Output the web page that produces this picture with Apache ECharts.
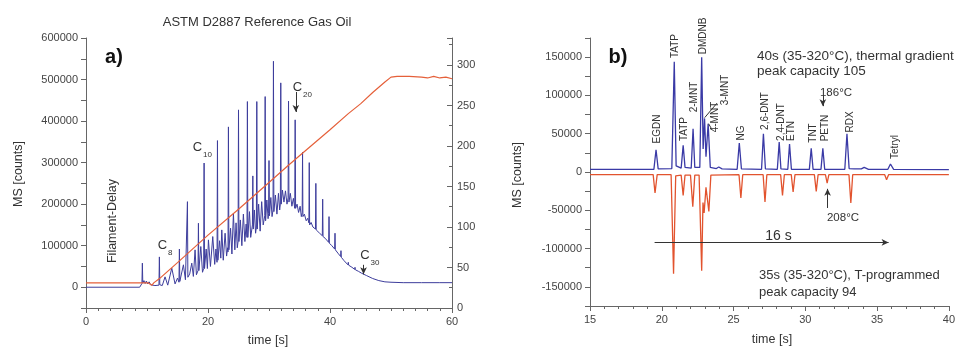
<!DOCTYPE html>
<html>
<head>
<meta charset="utf-8">
<script src="https://cdn.jsdelivr.net/npm/echarts@6/dist/echarts.min.js"></script>
<style>
  html, body { margin: 0; background: #fff; }
  #main { width: 958px; height: 349px; }
</style>
</head>
<body>
<div id="main"></div>
<script>
// a) ASTM D2887 gas oil: MS counts vs time [s]
var gasTrace = [
  [0,0],[8.8,0],[9.05,3000],[9.17,9000],[9.24,58000],[9.31,10000],[9.5,16000],[9.7,9000],[9.9,15000],[10.1,8000],
  [10.35,13000],[10.6,6000],[10.9,10000],[11.3,4000],[11.96,5000],[12.03,73000],[12.1,6000],[12.5,4000],[12.96,25000],
  [13.4,5000],[14.06,46000],[14.6,8000],[15.0,22000],[15.24,12000],[15.31,92000],[15.38,14000],[15.97,54000],
  [16.3,18000],[16.56,22000],[16.63,206000],[16.7,24000],[17.0,32000],[17.34,58000],[17.6,26000],[17.88,90000],
  [18.1,30000],[18.36,40000],[18.43,154000],[18.5,40000],[18.82,98000],[19.1,36000],[19.29,45000],[19.36,299000],
  [19.43,45000],[19.7,92000],[19.9,45000],[20.07,114000],[20.4,50000],[20.78,122000],[21.1,55000],[21.3,92000],
  [21.48,60000],[21.55,353000],[21.62,65000],[21.9,112000],[22.1,70000],[22.26,138000],[22.5,65000],[22.8,130000],
  [23.05,75000],[23.22,95000],[23.28,85000],[23.35,386000],[23.42,90000],[23.7,142000],[23.92,80000],[24.17,178000],
  [24.4,90000],[24.6,155000],[24.8,95000],[24.93,110000],[25.0,427000],[25.07,110000],[25.3,162000],[25.55,100000],
  [25.8,176000],[26.05,110000],[26.25,152000],[26.39,120000],[26.46,447000],[26.53,120000],[26.8,182000],[27.0,120000],
  [27.28,150000],[27.35,268000],[27.42,140000],[27.6,186000],[27.8,130000],[27.93,145000],[28.0,447000],[28.07,140000],
  [28.3,200000],[28.55,135000],[28.8,206000],[29.05,150000],[29.3,172000],[29.37,459000],[29.44,160000],[29.65,210000],
  [29.85,165000],[29.93,178000],[30.0,305000],[30.07,172000],[30.3,216000],[30.5,170000],[30.66,186000],[30.73,544000],
  [30.8,182000],[31.05,222000],[31.3,176000],[31.55,226000],[31.75,186000],[31.86,200000],[31.93,492000],[32.0,200000],
  [32.2,234000],[32.45,205000],[32.7,232000],[32.95,200000],[33.13,215000],[33.2,448000],[33.27,205000],[33.5,226000],
  [33.75,195000],[34.0,214000],[34.22,190000],[34.29,403000],[34.36,190000],[34.6,200000],[34.85,180000],[35.1,195000],
  [35.3,170000],[35.44,180000],[35.5,325000],[35.56,170000],[35.8,176000],[36.1,160000],[36.35,166000],[36.54,155000],
  [36.6,300000],[36.66,150000],[36.9,156000],[37.2,145000],[37.45,148000],[37.62,140000],[37.68,250000],[37.74,138000],
  [38.0,140000],[38.3,130000],[38.55,132000],[38.74,124000],[38.8,212000],[38.86,122000],[39.2,118000],[39.5,114000],
  [39.78,108000],[39.84,170000],[39.9,106000],[40.3,100000],[40.76,92000],[40.82,130000],[40.88,90000],[41.3,82000],
  [41.74,74000],[41.8,88000],[41.86,72000],[42.3,64000],[42.94,54000],[43.0,60000],[43.06,53000],[43.6,48000],
  [44.04,43000],[44.1,48000],[44.16,42000],[44.7,38000],[45.14,34000],[45.2,38000],[45.26,33000],[46,28000],
  [47,21000],[48,16000],[49,13000],[50,12000],[52,11000],[55,11000],[58,11000],[60,11000]
];
// oven temperature [°C], right axis
var gasTemp = [
  [0,31],[10.2,31],[10.5,29],[10.8,28],[11.1,31],[12,36],[15,56],[20,90],[25,122],[30,155],[33,175],[35,188],
  [40,220],[43,240],[45,252],[47,266],[49,279],[50,285],[51,286],[53,286],[55,285],[56,284],[57,286],[58,284],
  [59,285],[60,283]
];

// b) explosives: thermal gradient (up) vs T-programmed (down, inverted)
var thermalGradient = [
  [15,3500],[19.45,3500],[19.6,29000],[19.75,4000],[20.7,4500],[20.87,144000],[21.0,8000],[21.35,5000],[21.49,34700],
  [21.62,6000],[22.05,5000],[22.18,56500],[22.3,6000],[22.65,6000],[22.78,150000],[22.88,30000],[22.98,70000],
  [23.08,20000],[23.23,63000],[23.38,6000],[23.8,4500],[23.97,6500],[24.2,4000],[25.25,3500],[25.4,37800],[25.55,4000],
  [26.95,3500],[27.08,50000],[27.22,4000],[28.05,3500],[28.18,39000],[28.3,4000],[28.78,3500],[28.9,36500],[29.03,3500],
  [30.28,3500],[30.41,30800],[30.54,3500],[31.09,3500],[31.22,30800],[31.35,3500],[32.75,3500],[32.9,50000],
  [33.05,4500],[33.4,4000],[33.9,4000],[34.1,6000],[34.4,3500],[35.75,3500],[35.93,10400],[36.15,3500],[40,3000]
];
var tProgrammed = [
  [15,-3500],[19.4,-3500],[19.53,-27400],[19.68,-3500],[20.65,-3500],[20.82,-133000],[20.97,-5000],[21.35,-4000],
  [21.49,-30500],[21.62,-4000],[22.0,-4000],[22.16,-45300],[22.3,-4000],[22.6,-4000],[22.78,-129000],[22.87,-40000],
  [22.95,-53500],[23.08,-20000],[23.28,-51400],[23.42,-4000],[25.38,-3500],[25.51,-34000],[25.64,-3500],[27.06,-3500],
  [27.19,-39200],[27.32,-3500],[28.28,-3500],[28.41,-30500],[28.54,-3500],[29.02,-3500],[29.15,-26100],[29.28,-3500],
  [30.63,-3500],[30.76,-25300],[30.89,-3500],[31.4,-3500],[31.52,-14400],[31.64,-3500],[33.04,-3500],[33.17,-40500],
  [33.3,-3500],[35.53,-3500],[35.66,-10000],[35.8,-3500],[40,-3500]
];

var compoundNames = ['EGDN','TATP','TATP','2-MNT','DMDNB','3-MNT','4-MNT','NG','2,6-DNT','2,4-DNT','ETN','TNT','PETN','RDX','Tetryl'];
var compoundLabelPos = [[657,129],[675,46],[684,129],[694,97],[703,36],[725,90],[715,117],[741,133],[765,111],
                        [781.5,122],[791.5,131],[813,133],[825,128],[850,122],[895,147]];

var FONT = 'Liberation Sans, Arial, sans-serif';
var LBL = '#444';
var AXC = '#666';

function txt(x, y, s, size, opts) {
  opts = opts || {};
  return {
    type: 'text', x: x, y: y, rotation: opts.rot || 0, silent: true,
    style: {
      text: s, x: 0, y: 0, fill: opts.color || '#333',
      font: (opts.bold ? 'bold ' : '') + size + 'px ' + FONT,
      textAlign: opts.align || 'center', textVerticalAlign: 'middle'
    }
  };
}

var graphics = [
  txt(257, 22, 'ASTM D2887 Reference Gas Oil', 13),
  txt(114, 57, 'a)', 20, {bold: true, color: '#111'}),
  txt(618, 57, 'b)', 20, {bold: true, color: '#111'}),
  txt(113, 221, 'Filament-Delay', 12.5, {rot: Math.PI / 2}),
  txt(19, 174, 'MS [counts]', 12.5, {rot: Math.PI / 2}),
  txt(268, 341, 'time [s]', 12.5),
  txt(518, 175, 'MS [counts]', 12.5, {rot: Math.PI / 2}),
  txt(772, 340, 'time [s]', 12.5),
  txt(162.5, 245, 'C', 13), txt(168, 253, '8', 8, {align: 'left'}),
  txt(197.5, 147, 'C', 13), txt(203, 155, '10', 8, {align: 'left'}),
  txt(297.5, 87, 'C', 13), txt(303, 95, '20', 8, {align: 'left'}),
  txt(365, 255, 'C', 13), txt(370.5, 263, '30', 8, {align: 'left'}),
  txt(757, 56, '40s (35-320°C), thermal gradient', 13.5, {align: 'left'}),
  txt(757, 71, 'peak capacity 105', 13.5, {align: 'left'}),
  txt(836, 93, '186°C', 11.5),
  txt(843, 218, '208°C', 11.5),
  txt(778.5, 236, '16 s', 14),
  txt(759, 275, '35s (35-320°C), T-programmed', 13, {align: 'left'}),
  txt(759, 292, 'peak capacity 94', 13, {align: 'left'})
];
compoundNames.forEach(function (n, i) {
  graphics.push(txt(compoundLabelPos[i][0], compoundLabelPos[i][1], n, 10, {rot: Math.PI / 2}));
});

var axisBase = {
  axisLine: {show: true, onZero: false, lineStyle: {color: AXC, width: 1}},
  axisTick: {show: true, length: 5, lineStyle: {color: AXC}},
  splitLine: {show: false},
  axisLabel: {color: LBL, fontSize: 11, fontFamily: FONT, margin: 8}
};
function ax(extra) {
  return echarts.util.merge(echarts.util.clone(axisBase), extra, true);
}

var arrowLine = {
  silent: true, symbol: ['none', 'arrow'], symbolSize: [5, 7],
  lineStyle: {color: '#333', width: 1, type: 'solid'}, label: {show: false}, emphasis: {disabled: true}
};

var option = {
  animation: false,
  backgroundColor: '#fff',
  grid: [
    {left: 86, top: 38, width: 366, height: 270},
    {left: 590, top: 38, width: 362, height: 268}
  ],
  xAxis: [
    ax({type: 'value', gridIndex: 0, min: 0, max: 60, interval: 20,
        minorTick: {show: true, splitNumber: 10, length: 3, lineStyle: {color: AXC}}}),
    ax({type: 'value', gridIndex: 1, min: 15, max: 40, interval: 5,
        minorTick: {show: true, splitNumber: 5, length: 3, lineStyle: {color: AXC}}})
  ],
  yAxis: [
    ax({type: 'value', gridIndex: 0, min: -50000, max: 600000, interval: 50000,
        axisLabel: {formatter: function (v) { return v % 100000 === 0 ? String(v) : ''; }}}),
    ax({type: 'value', gridIndex: 0, position: 'right', min: 0, max: 333.33, interval: 50,
        axisTick: {inside: true}, axisLabel: {showMaxLabel: false, margin: 5},
        minorTick: {show: true, splitNumber: 2, length: 3, lineStyle: {color: AXC}}}),
    ax({type: 'value', gridIndex: 1, min: -175000, max: 175000, interval: 25000,
        axisLabel: {formatter: function (v) { return v % 50000 === 0 ? String(v) : ''; }}})
  ],
  graphic: graphics,
  series: [
    {
      type: 'line', xAxisIndex: 0, yAxisIndex: 0, data: gasTrace, showSymbol: false,
      lineStyle: {color: '#3d3d9c', width: 1}, z: 3,
      markLine: echarts.util.merge({
        data: [
          [{coord: [34.4, 470000]}, {coord: [34.4, 422000]}],
          [{coord: [45.5, 54000]}, {coord: [45.5, 31000]}]
        ]
      }, arrowLine)
    },
    {
      type: 'line', xAxisIndex: 0, yAxisIndex: 1, data: gasTemp, showSymbol: false,
      lineStyle: {color: '#e5603a', width: 1.2}, z: 4
    },
    {
      type: 'line', xAxisIndex: 1, yAxisIndex: 2, data: thermalGradient, showSymbol: false,
      lineStyle: {color: '#3a3aa6', width: 1.3}, z: 4,
      markLine: echarts.util.merge({
        data: [
          [{coord: [31.22, 100000]}, {coord: [31.22, 86000]}],
          [{coord: [31.55, -47000]}, {coord: [31.55, -22000]}],
          [{coord: [19.5, -92000]}, {coord: [35.8, -92000]}],
          [{coord: [23.85, 90000], symbol: 'none'}, {coord: [22.99, 71000], symbol: 'none'}],
          [{coord: [23.45, 57000], symbol: 'none'}, {coord: [23.26, 63000], symbol: 'none'}]
        ]
      }, arrowLine)
    },
    {
      type: 'line', xAxisIndex: 1, yAxisIndex: 2, data: tProgrammed, showSymbol: false,
      lineStyle: {color: '#e2532e', width: 1.3}, z: 3
    }
  ]
};

var chart = echarts.init(document.getElementById('main'));
chart.setOption(option);
</script>
</body>
</html>
